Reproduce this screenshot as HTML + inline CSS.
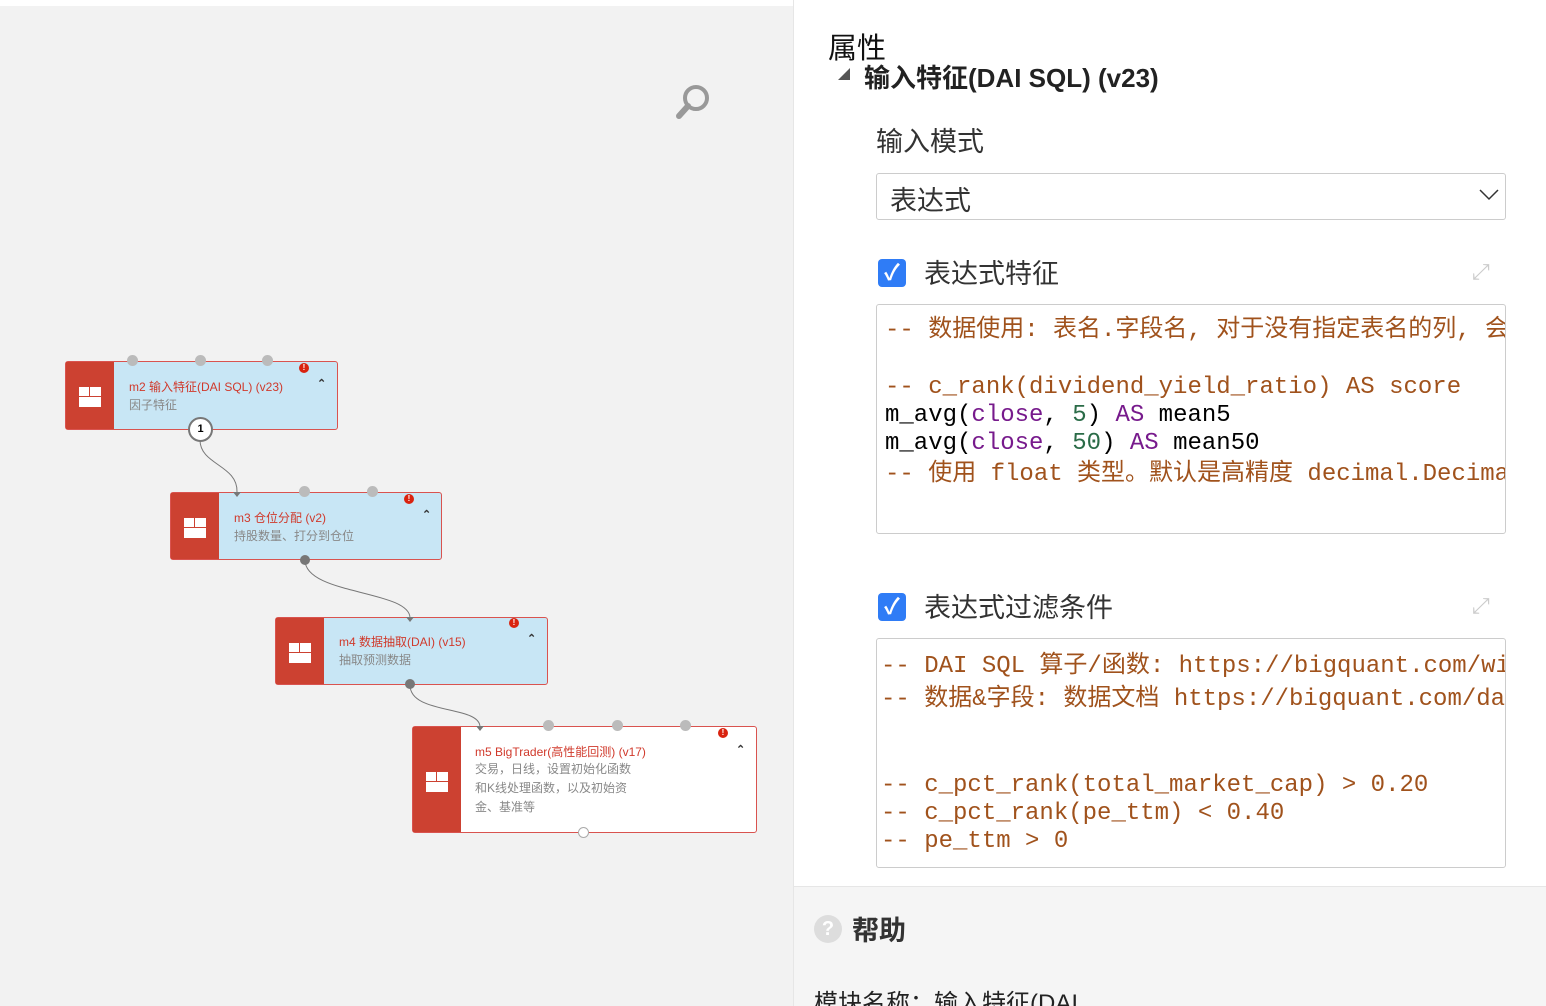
<!DOCTYPE html>
<html><head><meta charset="utf-8"><style>
*{margin:0;padding:0;box-sizing:border-box}
html,body{width:1546px;height:1006px;overflow:hidden}
body{position:relative;background:#fff;font-family:"Liberation Sans","Noto Sans CJK SC",sans-serif}
.a{position:absolute}
.node{position:absolute;border:1.5px solid #d9534f;border-radius:3px;background:#c8e6f5}
.node .red{position:absolute;left:0;top:0;bottom:0;width:48px;background:#cc4131}
.node .ic{position:absolute;left:13px;width:22px;height:20px;background:#fff}
.node .ic:before{content:"";position:absolute;left:10px;top:0;width:1px;height:10px;background:#cc4131}
.node .ic:after{content:"";position:absolute;left:0;top:9px;width:22px;height:1px;background:#cc4131}
.t{position:absolute;font-size:12px;color:#d0392b;white-space:nowrap}
.s{position:absolute;font-size:12px;color:#888;line-height:19px;white-space:nowrap}
.dot{position:absolute;width:11px;height:11px;border-radius:50%;background:#bbb}
.err{position:absolute;width:10px;height:10px;border-radius:50%;background:#d9230f;color:#fff;font-size:8px;font-weight:bold;text-align:center;line-height:10px}
.car{position:absolute;font-size:11px;color:#333;font-weight:bold}
.code{position:absolute;font-family:"Liberation Mono","Noto Sans CJK SC",monospace;font-size:24px;white-space:pre;color:#a0521c;line-height:28px}
.k{color:#000}.p{color:#771a8c}.g{color:#2a6b47}
.cb{position:absolute;width:28px;height:28px;border-radius:4px;background:#2f7cf6;color:#fff;font-size:22px;text-align:center;line-height:28px;font-weight:bold}
.lbl{position:absolute;font-size:27px;color:#333;white-space:nowrap}
</style></head><body>
<div class="a" style="left:0;top:6px;width:793px;height:1000px;background:#f2f2f2"></div>
<div class="a" style="left:793px;top:0;width:1px;height:1006px;background:#e6e6e6"></div>
<svg class="a" style="left:672px;top:82px" width="44" height="40"><circle cx="24" cy="16" r="11" fill="none" stroke="#999" stroke-width="4"/><line x1="16" y1="24" x2="7" y2="34" stroke="#999" stroke-width="6" stroke-linecap="round"/></svg>
<svg class="a" style="left:0;top:0" width="793" height="1006">
<path d="M200 440 C200 465 238 465 237 492" fill="none" stroke="#777" stroke-width="1"/>
<path d="M305 560 C305 595 410 590 410 618" fill="none" stroke="#777" stroke-width="1"/>
<path d="M410 685 C410 715 480 705 480 727" fill="none" stroke="#777" stroke-width="1"/>
</svg>
<!-- m2 -->
<div class="node" style="left:65px;top:361px;width:273px;height:69px"><div class="red"></div><div class="ic" style="top:25px"></div></div>
<div class="t" style="left:129px;top:378px">m2 输入特征(DAI SQL) (v23)</div>
<div class="s" style="left:129px;top:396px">因子特征</div>
<div class="dot" style="left:127px;top:355px"></div><div class="dot" style="left:195px;top:355px"></div><div class="dot" style="left:262px;top:355px"></div>
<div class="err" style="left:299px;top:363px">!</div><div class="car" style="left:317px;top:377px">⌃</div>
<div class="a" style="left:188px;top:417px;width:25px;height:25px;border-radius:50%;background:#fff;border:2px solid #777;font-size:11px;font-weight:bold;text-align:center;line-height:21px">1</div>
<!-- m3 -->
<div class="node" style="left:170px;top:492px;width:272px;height:68px"><div class="red"></div><div class="ic" style="top:25px"></div></div>
<div class="t" style="left:234px;top:509px">m3 仓位分配 (v2)</div>
<div class="s" style="left:234px;top:527px">持股数量、打分到仓位</div>
<div class="dot" style="left:299px;top:486px"></div><div class="dot" style="left:367px;top:486px"></div>
<div class="err" style="left:404px;top:494px">!</div><div class="car" style="left:422px;top:508px">⌃</div>
<div class="dot" style="left:300px;top:555px;width:10px;height:10px;background:#777"></div>
<!-- m4 -->
<div class="node" style="left:275px;top:617px;width:273px;height:68px"><div class="red"></div><div class="ic" style="top:25px"></div></div>
<div class="t" style="left:339px;top:633px">m4 数据抽取(DAI) (v15)</div>
<div class="s" style="left:339px;top:651px">抽取预测数据</div>
<div class="err" style="left:509px;top:618px">!</div><div class="car" style="left:527px;top:632px">⌃</div>
<div class="dot" style="left:405px;top:679px;width:10px;height:10px;background:#777"></div>
<!-- m5 -->
<div class="node" style="left:412px;top:726px;width:345px;height:107px;background:#fff"><div class="red"></div><div class="ic" style="top:45px"></div></div>
<div class="t" style="left:475px;top:743px">m5 BigTrader(高性能回测) (v17)</div>
<div class="s" style="left:475px;top:760px">交易，日线，设置初始化函数<br>和K线处理函数，以及初始资<br>金、基准等</div>
<div class="dot" style="left:543px;top:720px"></div><div class="dot" style="left:612px;top:720px"></div><div class="dot" style="left:680px;top:720px"></div>
<div class="err" style="left:718px;top:728px">!</div><div class="car" style="left:736px;top:743px">⌃</div>
<div class="dot" style="left:578px;top:827px;width:11px;height:11px;background:#fff;border:1px solid #aaa"></div>
<svg class="a" style="left:0;top:0" width="793" height="1006">
<polygon points="233,492 241,492 237,497" fill="#777"/>
<polygon points="406,617 414,617 410,622" fill="#777"/>
<polygon points="476,726 484,726 480,731" fill="#777"/>
</svg>
<!-- right panel -->
<div class="lbl" style="left:828px;top:25px;font-size:29px;color:#111">属性</div>
<div class="a" style="left:838px;top:68px;width:0;height:0;border-left:12px solid transparent;border-bottom:12px solid #555"></div>
<div class="lbl" style="left:864px;top:58px;font-size:26px;color:#222;font-weight:bold">输入特征(DAI SQL) (v23)</div>
<div class="lbl" style="left:876px;top:120px">输入模式</div>
<div class="a" style="left:876px;top:173px;width:630px;height:47px;border:1.5px solid #ccc;border-radius:3px"></div>
<div class="lbl" style="left:890px;top:179px">表达式</div>
<svg class="a" style="left:1478px;top:188px" width="22" height="14"><polyline points="2,2 11,11 20,2" fill="none" stroke="#333" stroke-width="1.5"/></svg>
<div class="cb" style="left:878px;top:259px">✓</div>
<div class="lbl" style="left:924px;top:252px">表达式特征</div>
<div class="a" style="left:1472px;top:259px;font-size:22px;color:#ccc">⤢</div>
<div class="a" style="left:876px;top:304px;width:630px;height:230px;border:1.5px solid #ccc;border-radius:3px;overflow:hidden">
<div class="code" style="left:8px;top:12px">-- 数据使用: 表名.字段名, 对于没有指定表名的列, 会</div>
<div class="code" style="left:8px;top:69px">-- c_rank(dividend_yield_ratio) AS score</div>
<div class="code k" style="left:8px;top:97px">m_avg(<span class="p">close</span>, <span class="g">5</span>) <span class="p">AS</span> mean5</div>
<div class="code k" style="left:8px;top:125px">m_avg(<span class="p">close</span>, <span class="g">50</span>) <span class="p">AS</span> mean50</div>
<div class="code" style="left:8px;top:156px">-- 使用 float 类型。默认是高精度 decimal.Decimal</div>
</div>
<div class="cb" style="left:878px;top:593px">✓</div>
<div class="lbl" style="left:924px;top:586px">表达式过滤条件</div>
<div class="a" style="left:1472px;top:593px;font-size:22px;color:#ccc">⤢</div>
<div class="a" style="left:876px;top:638px;width:630px;height:230px;border:1.5px solid #ccc;border-radius:3px;overflow:hidden">
<div class="code" style="left:4px;top:14px">-- DAI SQL 算子/函数: https://bigquant.com/wiki</div>
<div class="code" style="left:4px;top:47px">-- 数据&amp;字段: 数据文档 https://bigquant.com/data</div>
<div class="code" style="left:4px;top:133px">-- c_pct_rank(total_market_cap) &gt; 0.20</div>
<div class="code" style="left:4px;top:161px">-- c_pct_rank(pe_ttm) &lt; 0.40</div>
<div class="code" style="left:4px;top:189px">-- pe_ttm &gt; 0</div>
</div>
<div class="a" style="left:794px;top:886px;width:752px;height:120px;background:#f5f5f5;border-top:1px solid #e6e6e6"></div>
<div class="a" style="left:814px;top:915px;width:28px;height:28px;border-radius:50%;background:#ddd;color:#fff;font-weight:bold;font-size:20px;text-align:center;line-height:28px">?</div>
<div class="lbl" style="left:852px;top:909px;font-weight:bold;color:#333">帮助</div>
<div class="lbl" style="left:814px;top:983px;font-size:24px;color:#222">模块名称：输入特征(DAI</div>
</body></html>
